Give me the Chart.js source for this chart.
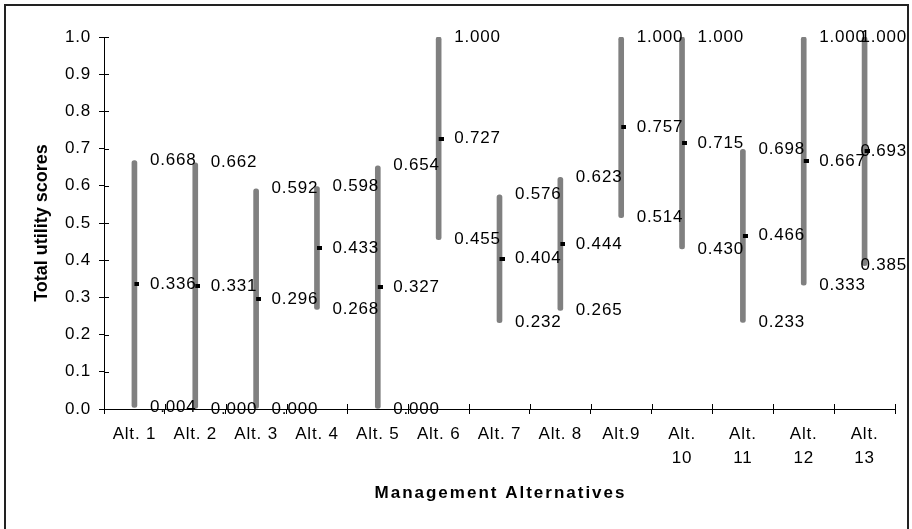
<!DOCTYPE html>
<html>
<head>
<meta charset="utf-8">
<script src="https://cdn.jsdelivr.net/npm/chart.js@4/dist/chart.umd.min.js"></script>
<style>
  html, body { margin: 0; padding: 0; background: #fff; }
  canvas { display: block; }
</style>
</head>
<body>
<canvas id="chart" width="912" height="529"></canvas>
<script>
// Management alternatives and their total utility score ranges
const categories = ['Alt. 1', 'Alt. 2', 'Alt. 3', 'Alt. 4', 'Alt. 5', 'Alt. 6', 'Alt. 7', 'Alt. 8', 'Alt.9',
  ['Alt.', '10'], ['Alt.', '11'], ['Alt.', '12'], ['Alt.', '13']];
const highs = [0.668, 0.662, 0.592, 0.598, 0.654, 1.000, 0.576, 0.623, 1.000, 1.000, 0.698, 1.000, 1.000];
const means = [0.336, 0.331, 0.296, 0.433, 0.327, 0.727, 0.404, 0.444, 0.757, 0.715, 0.466, 0.667, 0.693];
const lows  = [0.004, 0.000, 0.000, 0.268, 0.000, 0.455, 0.232, 0.265, 0.514, 0.430, 0.233, 0.333, 0.385];

const FONT = "'Liberation Sans', Arial, Helvetica, sans-serif";

// Small right-hand tick used as the marker for the mean score
const meanMark = document.createElement('canvas');
meanMark.width = 10;
meanMark.height = 4;
(function () {
  const c = meanMark.getContext('2d');
  c.fillStyle = '#000';
  c.fillRect(5, 0, 5, 4);
})();

const decorations = {
  id: 'decorations',
  beforeDraw(chart) {
    const ctx = chart.ctx;
    ctx.save();
    ctx.fillStyle = '#fff';
    ctx.fillRect(0, 0, chart.width, chart.height);
    ctx.restore();
    ctx.letterSpacing = '0px';
  },
  beforeDatasetsDraw(chart) {
    chart.ctx.letterSpacing = '0.8px';
  },
  afterDatasetsDraw(chart) {
    const { ctx, scales: { x, y } } = chart;
    ctx.save();
    // tick marks crossing into the plot area
    ctx.strokeStyle = '#000';
    ctx.lineWidth = 1;
    ctx.beginPath();
    for (let i = 0; i <= categories.length; i++) {
      const px = Math.round(x.getPixelForValue(i - 0.5)) + 0.5;
      ctx.moveTo(px, y.bottom);
      ctx.lineTo(px, y.bottom - 5);
    }
    y.ticks.forEach(t => {
      const py = Math.round(y.getPixelForValue(t.value)) + 0.5;
      ctx.moveTo(x.left, py);
      ctx.lineTo(x.left + 5, py);
    });
    ctx.stroke();

    // value labels beside each range: high, mean, low
    ctx.font = `17px ${FONT}`;
    ctx.fillStyle = '#000';
    ctx.textAlign = 'left';
    ctx.textBaseline = 'middle';
    const limit = chart.width - 5;
    categories.forEach((c, i) => {
      const cx = x.getPixelForValue(i);
      [highs[i], means[i], lows[i]].forEach(v => {
        const s = v.toFixed(3);
        const w = ctx.measureText(s).width;
        const tx = Math.min(cx + 15.5, limit - w);
        ctx.fillText(s, tx, y.getPixelForValue(v));
      });
    });
    ctx.restore();
  },
  afterDraw(chart) {
    const { ctx, scales: { x } } = chart;
    ctx.save();
    // horizontal axis title
    ctx.letterSpacing = '2px';
    ctx.font = `bold 17px ${FONT}`;
    ctx.fillStyle = '#000';
    ctx.textAlign = 'center';
    ctx.textBaseline = 'middle';
    ctx.fillText('Management Alternatives', (x.left + x.right) / 2 + 1, x.bottom - 36);
    // outer frame
    ctx.letterSpacing = '0px';
    ctx.strokeStyle = '#222';
    ctx.lineWidth = 2;
    ctx.beginPath();
    ctx.moveTo(5, chart.height + 10);
    ctx.lineTo(5, 5);
    ctx.lineTo(908, 5);
    ctx.lineTo(908, chart.height + 10);
    ctx.stroke();
    ctx.restore();
  }
};

new Chart(document.getElementById('chart'), {
  data: {
    labels: categories,
    datasets: [
      {
        type: 'line',
        label: 'Mean',
        data: means,
        showLine: false,
        pointStyle: meanMark,
        order: 1
      },
      {
        type: 'bar',
        label: 'Range',
        data: lows.map((l, i) => [l, highs[i]]),
        backgroundColor: '#808080',
        barThickness: 5,
        borderRadius: 2.5,
        borderSkipped: false,
        order: 2
      }
    ]
  },
  options: {
    responsive: false,
    animation: false,
    devicePixelRatio: 1,
    layout: { padding: { top: 37, right: 17, left: 0, bottom: 0 } },
    plugins: {
      legend: { display: false },
      tooltip: { enabled: false }
    },
    scales: {
      x: {
        type: 'category',
        offset: true,
        grid: { display: true, offset: true, drawOnChartArea: false, drawTicks: true, tickLength: 5, color: '#000' },
        border: { display: true, color: '#000', width: 1 },
        ticks: {
          autoSkip: false, maxRotation: 0, minRotation: 0, padding: 8, color: '#000', z: 1,
          font: { family: FONT, size: 17, lineHeight: 24 / 17 }
        },
        afterFit(scale) { scale.height = 120; }
      },
      y: {
        min: 0,
        max: 1,
        grid: { display: true, drawOnChartArea: false, drawTicks: true, tickLength: 5, color: '#000' },
        border: { display: true, color: '#000', width: 1 },
        ticks: {
          stepSize: 0.1, padding: 8, color: '#000', z: 1,
          font: { family: FONT, size: 17 },
          callback: v => Number(v).toFixed(1)
        },
        title: {
          display: true,
          text: 'Total utility scores',
          color: '#000',
          font: { family: FONT, size: 18, weight: 'bold', lineHeight: 1.2 },
          padding: { top: 31, bottom: 0 }
        },
        afterFit(scale) { scale.width = 104; }
      }
    }
  },
  plugins: [decorations]
});
</script>
</body>
</html>
